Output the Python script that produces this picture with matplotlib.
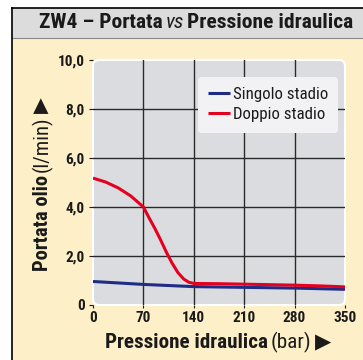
import os
import matplotlib
matplotlib.use("Agg")
import matplotlib.pyplot as plt
from matplotlib import font_manager as fm
from matplotlib.patches import Rectangle, FancyBboxPatch
from matplotlib.lines import Line2D

# pressure (bar) vs oil flow (l/min)
red_x = [0, 17.5, 35, 52.5, 70, 78, 86, 94, 102, 110, 118, 126, 133, 140, 175, 210, 245, 280, 315, 350]
red_y = [5.18, 5.02, 4.78, 4.45, 4.0, 3.55, 3.12, 2.65, 2.15, 1.7, 1.32, 1.06, 0.93, 0.88, 0.87, 0.85, 0.83, 0.81, 0.78, 0.74]
blue_x = [0, 70, 140, 210, 280, 350]
blue_y = [0.96, 0.84, 0.75, 0.72, 0.69, 0.64]

x_ticks = [0, 70, 140, 210, 280, 350]
y_ticks = [0, 2, 4, 6, 8, 10]
y_tick_labels = ["0", "2,0", "4,0", "6,0", "8,0", "10,0"]

series_names = ["Singolo stadio", "Doppio stadio"]
BLUE = "#1f2c86"
RED = "#e60020"
INK = "#1a1a1a"
BEIGE = "#fdefc7"
BAND = "#dcdcdc"
PLOT_BG = "#dbdcdf"

# pick a condensed face if one is installed
files = {os.path.basename(f.fname): f.fname for f in fm.fontManager.ttflist}
candidates = [
    ("RobotoCondensed-Bold.ttf", "RobotoCondensed-Regular.ttf", "RobotoCondensed-Italic.ttf"),
    ("LiberationSansNarrow-Bold.ttf", "LiberationSansNarrow-Regular.ttf", "LiberationSansNarrow-Italic.ttf"),
    ("NotoSans-CondensedBold.ttf", "NotoSans-Condensed.ttf", "NotoSans-CondensedItalic.ttf"),
    ("LiberationSans-Bold.ttf", "LiberationSans-Regular.ttf", "LiberationSans-Italic.ttf"),
]
FP_BOLD = FP_REG = FP_ITAL = None
for b, r, i in candidates:
    if b in files and r in files:
        FP_BOLD = fm.FontProperties(fname=files[b])
        FP_REG = fm.FontProperties(fname=files[r])
        FP_ITAL = fm.FontProperties(fname=files.get(i, files[r]))
        break
if FP_BOLD is None:
    FP_BOLD = fm.FontProperties(family="DejaVu Sans", weight="bold")
    FP_REG = fm.FontProperties(family="DejaVu Sans")
    FP_ITAL = fm.FontProperties(family="DejaVu Sans", style="italic")
FP_ARROW = fm.FontProperties(family="DejaVu Sans")

W, H = 363, 360
fig = plt.figure(figsize=(W / 100, H / 100), dpi=100)
fig.patch.set_facecolor("white")
renderer = fig.canvas.get_renderer()


def fx(px):
    return px / W


def fy(py):
    return 1 - py / H


def sized(fp, size):
    p = fp.copy()
    p.set_size(size)
    return p


def fit_size(text, fp, target_px, max_size):
    # largest size (up to max_size) at which text is no wider than target_px
    t = fig.text(0, 0, text, fontproperties=sized(fp, 10))
    w = t.get_window_extent(renderer).width
    t.remove()
    return min(max_size, 10 * target_px / w)


# panel background, title band and frame
fig.add_artist(Rectangle((fx(12), 0), 1 - fx(12), fy(8), transform=fig.transFigure,
                         facecolor=BEIGE, edgecolor="none", zorder=0))
fig.add_artist(Rectangle((fx(12), fy(38)), 1 - fx(12), fy(8) - fy(38), transform=fig.transFigure,
                         facecolor=BAND, edgecolor="none", zorder=0))
fig.add_artist(Line2D([fx(12), 1], [fy(38), fy(38)], color="#8a8a8a", lw=0.8, zorder=1))
fig.add_artist(Line2D([fx(12), fx(12)], [0, fy(8)], color="black", lw=1.2, zorder=2))
fig.add_artist(Line2D([fx(12), 1], [fy(8), fy(8)], color="black", lw=1.2, zorder=2))

ax = fig.add_axes([fx(93), fy(305), fx(345) - fx(93), fy(60) - fy(305)])
ax.patch.set_visible(False)
ax.add_patch(FancyBboxPatch((0, 0), 1, 1, boxstyle="round,pad=0,rounding_size=0.025",
                            transform=ax.transAxes, facecolor=PLOT_BG, edgecolor="white",
                            lw=1.5, zorder=0, clip_on=False))
for v in x_ticks[1:-1]:
    ax.axvline(v, color="#2a2a2a", lw=1.0, zorder=1)
for v in y_ticks[1:-1]:
    ax.axhline(v, color="#2a2a2a", lw=1.0, zorder=1)

ax.plot(blue_x, blue_y, color=BLUE, lw=2.2, label=series_names[0], zorder=3,
        solid_capstyle="butt", solid_joinstyle="round")
ax.plot(red_x, red_y, color=RED, lw=2.2, label=series_names[1], zorder=4,
        solid_capstyle="butt", solid_joinstyle="round")

ax.set_xlim(0, 350)
ax.set_ylim(0, 10)
for s in ax.spines.values():
    s.set_visible(False)
ax.set_xticks(x_ticks)
ax.set_yticks(y_ticks)
ax.set_yticklabels(y_tick_labels)
ax.tick_params(axis="both", colors=INK, length=3, width=0.8)
ax.tick_params(axis="y", pad=3)
ax.tick_params(axis="x", pad=2, length=2)

tick_size = fit_size("10,0", FP_BOLD, 30, 11)
for lab in ax.get_xticklabels() + ax.get_yticklabels():
    lab.set_fontproperties(sized(FP_BOLD, tick_size))

leg_size = fit_size(series_names[0], FP_REG, 95, 13)
leg = ax.legend(loc="upper right", bbox_to_anchor=(0.972, 0.93), frameon=True, fancybox=True,
                facecolor="#f2f2f4", edgecolor="none", framealpha=1,
                prop=sized(FP_REG, leg_size),
                handlelength=1.3, handletextpad=0.15, borderpad=0.6, labelspacing=0.3,
                borderaxespad=0)
for t in leg.get_texts():
    t.set_color(INK)


def mixed_text(cx, cy, parts, size, max_len, vertical=False, gap=3):
    # lay out text runs of different faces one after another, centred on (cx, cy) in pixels
    for attempt in range(2):
        arts = []
        lengths = []
        for txt, fp in parts:
            t = fig.text(0, 0, txt, fontproperties=sized(fp, size), color=INK,
                         rotation=90 if vertical else 0, rotation_mode="anchor",
                         ha="left", va="center")
            bb = t.get_window_extent(renderer)
            arts.append(t)
            lengths.append(bb.height if vertical else bb.width)
        total = sum(lengths) + gap * (len(parts) - 1)
        if total <= max_len or attempt == 1:
            break
        for t in arts:
            t.remove()
        size = size * max_len / total
    pos = -total / 2
    for t, ln in zip(arts, lengths):
        if vertical:
            t.set_position((fx(cx), fy(cy - pos)))
        else:
            t.set_position((fx(cx + pos), fy(cy)))
        pos += ln + gap


mixed_text(196, 23, [("ZW4 – Portata", FP_BOLD), ("vs", FP_ITAL),
                     ("Pressione idraulica", FP_BOLD)], 18, 313)
mixed_text(218, 342, [("Pressione idraulica", FP_BOLD), ("(bar)", FP_REG),
                      ("▶", FP_ARROW)], 18, 225)
mixed_text(42, 184, [("Portata olio", FP_BOLD), ("(l/min)", FP_REG),
                     ("▶", FP_ARROW)], 18, 172, vertical=True)

fig.savefig("out.png", dpi=100)
